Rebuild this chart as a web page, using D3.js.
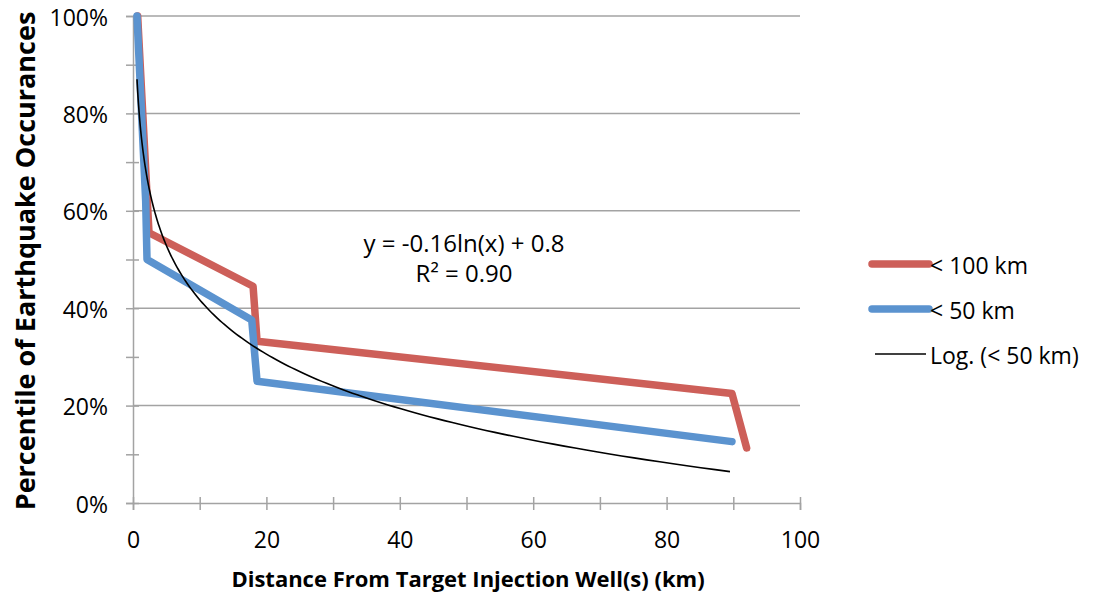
<!DOCTYPE html>
<html>
<head>
<meta charset="utf-8">
<script src="https://cdn.jsdelivr.net/npm/d3@7"></script>
<style>
body { margin: 0; background: #fff; }
svg { display: block; font-family: "Open Sans", "Liberation Sans", sans-serif; }
</style>
</head>
<body>
<svg id="chart" width="1094" height="599"></svg>
<script>
// series values (x in km, y as a fraction)
var within100X = [0.7, 2.4, 18, 18.6, 89.8, 92],
    within100Y = [1.0, 0.555, 0.445, 0.332, 0.225, 0.113],
    within50X = [0.6, 1.9, 2.1, 17.8, 18.6, 89.8],
    within50Y = [1.0, 0.62, 0.50, 0.376, 0.25, 0.126];

// log trendline of the < 50 km series, as Excel drew it
var trendA = -0.161,
    trendB = 0.788,
    trendFrom = 0.6,
    trendTo = 89.5;

var xTicks = [0, 20, 40, 60, 80, 100],
    yTicks = [0, 0.2, 0.4, 0.6, 0.8, 1.0],
    legendLabels = ["< 100 km", "< 50 km", "Log. (< 50 km)"];

var colors = {
        red: "#CD5F59",
        blue: "#5B93CF",
        trend: "#000",
        grid: "#A3A3A3"
    },
    plot = { left: 133, right: 800, top: 16, bottom: 503 },
    fontSize = 23;

var svg = d3.select("#chart");

var x = d3.scaleLinear().domain([0, 100]).range([plot.left, plot.right]),
    y = d3.scaleLinear().domain([0, 1]).range([plot.bottom, plot.top]);

// horizontal gridlines
svg.append("g")
    .selectAll("line")
    .data(yTicks.slice(1)).enter()
    .append("line")
    .attr("x1", plot.left)
    .attr("x2", plot.right)
    .attr("y1", function(d) { return y(d); })
    .attr("y2", function(d) { return y(d); })
    .attr("stroke", colors.grid)
    .attr("stroke-width", 1.5);

// y axis: major ticks with labels, minor ticks in between
var yAxis = d3.axisLeft(y)
    .tickValues(d3.range(0, 1.01, 0.1))
    .tickSize(7)
    .tickFormat(function(d) {
        var p = Math.round(d * 100);
        return p % 20 === 0 ? p + "%" : "";
    });

var gy = svg.append("g")
    .attr("transform", "translate(" + plot.left + ",0)")
    .call(yAxis);

// x axis
var xAxis = d3.axisBottom(x)
    .tickValues(d3.range(0, 101, 10))
    .tickSize(7)
    .tickFormat(function(d) { return xTicks.indexOf(d) >= 0 ? d : ""; });

var gx = svg.append("g")
    .attr("transform", "translate(0," + plot.bottom + ")")
    .call(xAxis);

[gx, gy].forEach(function(g) {
    g.select(".domain").attr("stroke", colors.grid).attr("stroke-width", 1.5);
    g.selectAll(".tick line").attr("stroke", colors.grid).attr("stroke-width", 1.5);
    g.selectAll("text").attr("font-size", fontSize).attr("fill", "#000")
        .attr("font-family", "\"Open Sans\", sans-serif");
});
// ticks cross the axis line
gy.selectAll(".tick line").attr("x1", 6);
gy.selectAll(".tick text").attr("x", -25).attr("dy", 9);
gx.selectAll(".tick line").attr("y1", -6);
gx.selectAll(".tick text").attr("y", 45).attr("dy", 0);

// series
var line = d3.line()
    .x(function(d) { return x(d[0]); })
    .y(function(d) { return y(d[1]); });

var series = [
    { pts: d3.zip(within100X, within100Y), color: colors.red },
    { pts: d3.zip(within50X, within50Y), color: colors.blue }
];

svg.append("g")
    .selectAll("path")
    .data(series).enter()
    .append("path")
    .attr("d", function(d) { return line(d.pts); })
    .attr("fill", "none")
    .attr("stroke", function(d) { return d.color; })
    .attr("stroke-width", 7.5)
    .attr("stroke-linecap", "round")
    .attr("stroke-linejoin", "round");

// trendline
var trendPts = d3.range(0, 201).map(function(i) {
    var xv = trendFrom * Math.pow(trendTo / trendFrom, i / 200);
    return [xv, trendA * Math.log(xv) + trendB];
});

svg.append("path")
    .attr("d", line(trendPts))
    .attr("fill", "none")
    .attr("stroke", colors.trend)
    .attr("stroke-width", 1.6);

// equation
var eq = svg.append("g").attr("font-size", 24).attr("text-anchor", "middle");
eq.append("text").attr("x", 464).attr("y", 252).text("y = -0.16ln(x) + 0.8");
eq.append("text").attr("x", 464).attr("y", 282).text("R² = 0.90");

// axis titles
svg.append("text")
    .attr("x", 468)
    .attr("y", 587)
    .attr("text-anchor", "middle")
    .attr("font-size", 22)
    .attr("font-weight", "bold")
    .text("Distance From Target Injection Well(s) (km)");

svg.append("text")
    .attr("transform", "translate(35,261) rotate(-90)")
    .attr("text-anchor", "middle")
    .attr("font-size", 27)
    .attr("font-weight", "bold")
    .text("Percentile of Earthquake Occurances");

// legend
var legend = svg.append("g").attr("transform", "translate(872,0)");
var legendRows = [
    { label: legendLabels[0], color: colors.red, w: 7.5, y: 264 },
    { label: legendLabels[1], color: colors.blue, w: 7.5, y: 309 },
    { label: legendLabels[2], color: colors.trend, w: 1.6, y: 354 }
];
var rows = legend.selectAll("g")
    .data(legendRows).enter()
    .append("g")
    .attr("transform", function(d) { return "translate(0," + d.y + ")"; });
rows.append("line")
    .attr("x1", function(d) { return d.w > 2 ? 0 : 3; })
    .attr("x2", function(d) { return d.w > 2 ? 57 : 54; })
    .attr("stroke", function(d) { return d.color; })
    .attr("stroke-width", function(d) { return d.w; })
    .attr("stroke-linecap", function(d) { return d.w > 2 ? "round" : "butt"; });
rows.append("text")
    .attr("x", 58)
    .attr("y", 10)
    .attr("font-size", fontSize)
    .text(function(d) { return d.label; });
</script>
</body>
</html>
